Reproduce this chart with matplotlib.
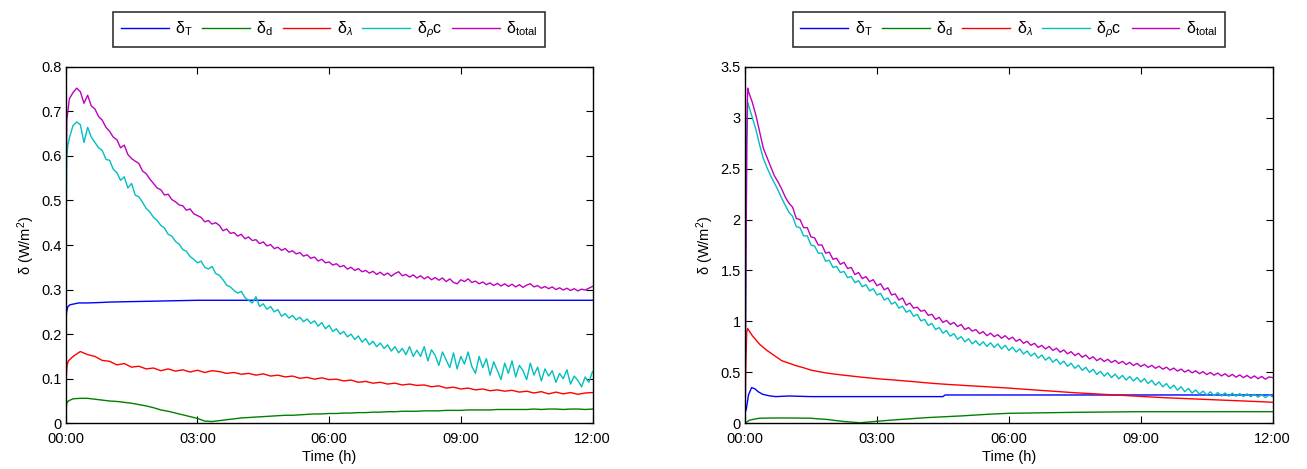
import numpy as np
import matplotlib
matplotlib.use("Agg")
import matplotlib.pyplot as plt
from matplotlib.ticker import FuncFormatter

plt.rcParams['font.family'] = ['Liberation Sans', 'DejaVu Sans']
plt.rcParams['mathtext.fontset'] = 'custom'
plt.rcParams['mathtext.rm'] = 'Liberation Sans'
plt.rcParams['mathtext.it'] = 'Liberation Sans:italic'

# ---------------- time grids (hours) ----------------
t_head = [0.0, 0.01, 0.025, 0.05]
t5 = np.arange(1, 145) / 12.0      # 5-minute samples
t10 = np.arange(1, 73) / 6.0       # 10-minute samples

labels = ['δ$_\\mathrm{T}$', 'δ$_\\mathrm{d}$', 'δ$_\\lambda$', 'δ$_\\rho$c', 'δ$_\\mathrm{total}$']
colors = ['#0000ff', '#008000', '#ff0000', '#00bfbf', '#bf00bf']
xticks = [0, 3, 6, 9, 12]
xticklabels = ['00:00', '03:00', '06:00', '09:00', '12:00']

# ---------------- LEFT panel ----------------
L_T_t = [0.0, 0.02, 0.05, 0.1, 0.2, 0.3, 0.5, 0.8, 1.0, 1.5, 2.0, 2.5, 3.0, 4.0, 5.0, 6.0, 8.0, 10.0, 12.0]
L_T = [0.22, 0.25, 0.262, 0.266, 0.268, 0.270, 0.270, 0.271, 0.272, 0.273, 0.274, 0.275, 0.276, 0.276, 0.276, 0.276, 0.276, 0.276, 0.276]

L_d_head = [0.0, 0.045, 0.050, 0.052]
L_d = [0.055, 0.056, 0.056, 0.054, 0.052, 0.050, 0.049, 0.047, 0.045, 0.042, 0.039, 0.035,
       0.030, 0.027, 0.023, 0.019, 0.015, 0.011, 0.005, 0.004, 0.006, 0.008, 0.010, 0.012,
       0.013, 0.014, 0.015, 0.016, 0.017, 0.018, 0.018, 0.019, 0.020, 0.021, 0.021, 0.022,
       0.022, 0.023, 0.023, 0.024, 0.024, 0.025, 0.025, 0.026, 0.026, 0.027, 0.027, 0.027,
       0.028, 0.028, 0.028, 0.029, 0.029, 0.029, 0.030, 0.030, 0.030, 0.030, 0.031, 0.031,
       0.031, 0.031, 0.031, 0.032, 0.031, 0.032, 0.032, 0.031, 0.032, 0.032, 0.031, 0.032]

L_lam_head = [0.0, 0.10, 0.13, 0.14]
L_lam = [0.150, 0.161, 0.154, 0.150, 0.141, 0.139, 0.131, 0.134, 0.126, 0.128, 0.122, 0.124,
         0.118, 0.122, 0.117, 0.120, 0.115, 0.119, 0.114, 0.118, 0.116, 0.112, 0.114, 0.110,
         0.112, 0.108, 0.111, 0.106, 0.108, 0.104, 0.106, 0.101, 0.103, 0.099, 0.102, 0.098,
         0.099, 0.095, 0.097, 0.092, 0.094, 0.090, 0.092, 0.088, 0.090, 0.086, 0.088, 0.085,
         0.086, 0.082, 0.084, 0.079, 0.081, 0.077, 0.079, 0.075, 0.077, 0.073, 0.075, 0.072,
         0.074, 0.070, 0.072, 0.068, 0.071, 0.066, 0.070, 0.066, 0.069, 0.065, 0.068, 0.069]

L_rc_head = [0.22, 0.45, 0.60, 0.625]
L_rc = [0.640, 0.668, 0.676, 0.670, 0.630, 0.664, 0.642, 0.630, 0.618, 0.612, 0.592, 0.590,
        0.570, 0.562, 0.545, 0.553, 0.528, 0.538, 0.512, 0.508, 0.496, 0.482, 0.474, 0.462,
        0.455, 0.444, 0.438, 0.424, 0.420, 0.408, 0.402, 0.390, 0.386, 0.374, 0.368, 0.360,
        0.364, 0.350, 0.346, 0.352, 0.336, 0.332, 0.322, 0.310, 0.306, 0.298, 0.292, 0.296,
        0.282, 0.276, 0.270, 0.284, 0.262, 0.268, 0.256, 0.262, 0.250, 0.255, 0.240, 0.246,
        0.236, 0.242, 0.232, 0.238, 0.228, 0.234, 0.224, 0.230, 0.218, 0.226, 0.212, 0.220,
        0.206, 0.212, 0.200, 0.206, 0.194, 0.200, 0.188, 0.196, 0.182, 0.190, 0.176, 0.184,
        0.172, 0.180, 0.168, 0.176, 0.162, 0.172, 0.158, 0.168, 0.154, 0.172, 0.150, 0.164,
        0.150, 0.172, 0.140, 0.165, 0.152, 0.130, 0.160, 0.142, 0.125, 0.158, 0.122, 0.150,
        0.133, 0.160, 0.128, 0.112, 0.150, 0.125, 0.145, 0.108, 0.138, 0.118, 0.098, 0.135,
        0.112, 0.140, 0.104, 0.130, 0.118, 0.098, 0.135, 0.108, 0.126, 0.095, 0.122, 0.106,
        0.118, 0.092, 0.112, 0.100, 0.120, 0.088, 0.106, 0.096, 0.082, 0.104, 0.092, 0.116]

L_tot_head = [0.30, 0.55, 0.68, 0.70]
L_tot = [0.728, 0.742, 0.752, 0.744, 0.718, 0.736, 0.712, 0.705, 0.688, 0.680, 0.664, 0.655,
         0.642, 0.636, 0.618, 0.624, 0.603, 0.594, 0.588, 0.583, 0.566, 0.560, 0.548, 0.538,
         0.528, 0.524, 0.512, 0.514, 0.502, 0.497, 0.490, 0.488, 0.478, 0.481, 0.470, 0.466,
         0.462, 0.452, 0.455, 0.447, 0.450, 0.444, 0.432, 0.436, 0.426, 0.428, 0.420, 0.424,
         0.414, 0.418, 0.410, 0.412, 0.403, 0.407, 0.398, 0.401, 0.392, 0.395, 0.388, 0.392,
         0.384, 0.387, 0.380, 0.383, 0.375, 0.378, 0.370, 0.373, 0.364, 0.368, 0.360, 0.362,
         0.355, 0.358, 0.351, 0.354, 0.346, 0.350, 0.343, 0.347, 0.340, 0.343, 0.337, 0.341,
         0.334, 0.339, 0.332, 0.337, 0.330, 0.336, 0.340, 0.331, 0.334, 0.328, 0.333, 0.326,
         0.331, 0.324, 0.329, 0.322, 0.327, 0.321, 0.326, 0.318, 0.324, 0.316, 0.313, 0.322,
         0.318, 0.324, 0.316, 0.319, 0.313, 0.317, 0.311, 0.315, 0.309, 0.314, 0.308, 0.313,
         0.307, 0.312, 0.306, 0.311, 0.305, 0.310, 0.313, 0.306, 0.309, 0.303, 0.307, 0.302,
         0.306, 0.300, 0.304, 0.299, 0.303, 0.298, 0.302, 0.297, 0.301, 0.299, 0.303, 0.307]

# ---------------- RIGHT panel ----------------
R_head_t = [0.0, 0.02, 0.04, 0.06]

R_T_t = [0.0, 0.03, 0.08, 0.15, 0.22, 0.3, 0.4, 0.55, 0.7, 1.0, 1.5, 2.0, 3.0, 4.0, 4.5, 4.55, 6.0, 8.0, 10.0, 12.0]
R_T = [0.10, 0.14, 0.28, 0.35, 0.34, 0.31, 0.285, 0.270, 0.262, 0.268, 0.262, 0.262, 0.262, 0.262, 0.262, 0.278, 0.278, 0.278, 0.278, 0.278]

R_d_t = [0.0, 0.03, 0.1, 0.2, 0.34, 0.6, 1.0, 1.48, 1.86, 2.24, 2.62, 3.0, 3.38, 4.14, 4.9, 5.58, 6.0, 7.55, 9.0, 10.5, 12.0]
R_d = [0.0, 0.01, 0.03, 0.04, 0.05, 0.052, 0.052, 0.050, 0.038, 0.018, 0.005, 0.020, 0.033, 0.056, 0.072, 0.090, 0.098, 0.108, 0.114, 0.114, 0.114]

R_lam_head = [0.0, 0.60, 0.90, 0.93]
R_lam = [0.860, 0.775, 0.715, 0.665, 0.615, 0.590, 0.565, 0.545, 0.522, 0.508, 0.495, 0.485,
         0.476, 0.468, 0.460, 0.452, 0.445, 0.438, 0.432, 0.427, 0.421, 0.415, 0.409, 0.402,
         0.396, 0.390, 0.385, 0.380, 0.376, 0.371, 0.367, 0.363, 0.359, 0.354, 0.350, 0.346,
         0.340, 0.335, 0.330, 0.325, 0.320, 0.315, 0.310, 0.305, 0.300, 0.296, 0.292, 0.288,
         0.284, 0.280, 0.276, 0.272, 0.268, 0.264, 0.260, 0.256, 0.252, 0.249, 0.246, 0.243,
         0.240, 0.237, 0.234, 0.231, 0.228, 0.225, 0.222, 0.219, 0.216, 0.213, 0.210, 0.206]

R_rc_head = [0.10, 1.40, 2.70, 3.15]
R_rc = [3.12, 3.00, 2.88, 2.73, 2.60, 2.51, 2.43, 2.36, 2.29, 2.21, 2.14, 2.07,
        2.03, 1.93, 1.92, 1.84, 1.84, 1.75, 1.74, 1.67, 1.67, 1.59, 1.60, 1.53,
        1.54, 1.48, 1.49, 1.43, 1.44, 1.38, 1.40, 1.34, 1.36, 1.30, 1.32, 1.26,
        1.275, 1.21, 1.23, 1.17, 1.19, 1.13, 1.15, 1.09, 1.11, 1.05, 1.07, 1.005,
        1.02, 0.96, 0.98, 0.92, 0.94, 0.885, 0.91, 0.855, 0.88, 0.825, 0.85, 0.80,
        0.83, 0.78, 0.81, 0.765, 0.80, 0.755, 0.79, 0.745, 0.78, 0.73, 0.765, 0.715,
        0.747, 0.70, 0.73, 0.68, 0.71, 0.66, 0.69, 0.64, 0.67, 0.62, 0.65, 0.60,
        0.63, 0.58, 0.61, 0.56, 0.59, 0.54, 0.57, 0.52, 0.55, 0.50, 0.53, 0.48,
        0.51, 0.463, 0.496, 0.449, 0.482, 0.436, 0.47, 0.425, 0.46, 0.415, 0.45, 0.405,
        0.438, 0.39, 0.422, 0.374, 0.406, 0.358, 0.39, 0.342, 0.374, 0.326, 0.358, 0.31,
        0.342, 0.297, 0.327, 0.286, 0.316, 0.278, 0.309, 0.272, 0.302, 0.268, 0.298, 0.266,
        0.296, 0.265, 0.292, 0.262, 0.289, 0.26, 0.286, 0.256, 0.282, 0.252, 0.278, 0.262]

R_tot_head = [0.10, 1.50, 2.80, 3.29]
R_tot = [3.25, 3.15, 3.02, 2.86, 2.70, 2.61, 2.52, 2.43, 2.37, 2.30, 2.22, 2.16,
         2.12, 2.01, 2.00, 1.92, 1.92, 1.83, 1.82, 1.75, 1.75, 1.67, 1.68, 1.61,
         1.62, 1.56, 1.58, 1.52, 1.53, 1.46, 1.48, 1.42, 1.44, 1.39, 1.41, 1.35,
         1.37, 1.31, 1.33, 1.26, 1.27, 1.21, 1.23, 1.16, 1.18, 1.13, 1.14, 1.10,
         1.11, 1.06, 1.07, 1.02, 1.04, 0.99, 1.01, 0.97, 0.99, 0.95, 0.97, 0.92,
         0.94, 0.905, 0.92, 0.88, 0.90, 0.86, 0.885, 0.85, 0.87, 0.835, 0.86, 0.825,
         0.845, 0.805, 0.825, 0.785, 0.805, 0.765, 0.785, 0.745, 0.765, 0.73, 0.755, 0.715,
         0.737, 0.698, 0.72, 0.682, 0.703, 0.665, 0.687, 0.648, 0.67, 0.632, 0.653, 0.615,
         0.638, 0.607, 0.628, 0.597, 0.618, 0.587, 0.608, 0.577, 0.598, 0.567, 0.588, 0.557,
         0.578, 0.549, 0.569, 0.540, 0.560, 0.531, 0.551, 0.522, 0.542, 0.513, 0.532, 0.503,
         0.523, 0.495, 0.515, 0.487, 0.507, 0.478, 0.499, 0.472, 0.493, 0.465, 0.486, 0.458,
         0.480, 0.453, 0.475, 0.448, 0.470, 0.443, 0.465, 0.438, 0.460, 0.433, 0.455, 0.448]


def cat(head_t, head_v, tail_t, tail_v):
    return np.concatenate([head_t, tail_t]), np.concatenate([head_v, tail_v])


fig = plt.figure(figsize=(13.07, 4.69), dpi=100)
W, H = 1307.0, 469.0
axL = fig.add_axes([65.7 / W, 1 - 423.3 / H, (592.5 - 65.7) / W, (423.3 - 66.7) / H])
axR = fig.add_axes([745.0 / W, 1 - 423.3 / H, (1272.7 - 745.0) / W, (423.3 - 66.7) / H])

lw = 1.0
left_series = [
    (L_T_t, L_T),
    cat([0.0, 0.02, 0.06, 0.1], L_d_head, t10, L_d),
    cat([0.0, 0.01, 0.03, 0.06], L_lam_head, t10, L_lam),
    cat(t_head, L_rc_head, t5, L_rc),
    cat(t_head, L_tot_head, t5, L_tot),
]
right_series = [
    (R_T_t, R_T),
    (R_d_t, R_d),
    cat(R_head_t, R_lam_head, t10, R_lam),
    cat(R_head_t, R_rc_head, t5, R_rc),
    cat(R_head_t, R_tot_head, t5, R_tot),
]

for ax, series, ymax, ystep in [(axL, left_series, 0.8, 0.1), (axR, right_series, 3.5, 0.5)]:
    for (tt, vv), c, lab in zip(series, colors, labels):
        ax.plot(tt, vv, color=c, lw=lw, label=lab)
    ax.set_xlim(0, 12)
    ax.set_ylim(0, ymax)
    ax.set_xticks(xticks)
    ax.set_xticklabels(xticklabels)
    ax.set_yticks(np.arange(0, ymax + 1e-9, ystep))
    ax.yaxis.set_major_formatter(FuncFormatter(lambda v, p: '%g' % round(v, 3)))
    ax.tick_params(direction='in', top=True, right=True, length=5, width=0.8,
                   labelsize=10.5)
    ax.tick_params(axis='x', pad=6)
    ax.tick_params(axis='y', pad=3)
    for s in ax.spines.values():
        s.set_linewidth(1.0)
    ax.set_xlabel('Time (h)', fontsize=10.5, labelpad=3)
    ax.set_ylabel('δ (W/m$^2$)', fontsize=10.5, labelpad=3)
    leg = ax.legend(loc='lower center', bbox_to_anchor=(0.5, 1.054), ncol=5,
                    fontsize=11.5, frameon=True, fancybox=False, edgecolor='black',
                    handlelength=3.0, handletextpad=0.4, columnspacing=0.6,
                    borderpad=0.45, borderaxespad=0)
    leg.get_frame().set_linewidth(1.2)
    for ln in leg.get_lines():
        ln.set_linewidth(1.0)

fig.savefig('out.png', dpi=100)
